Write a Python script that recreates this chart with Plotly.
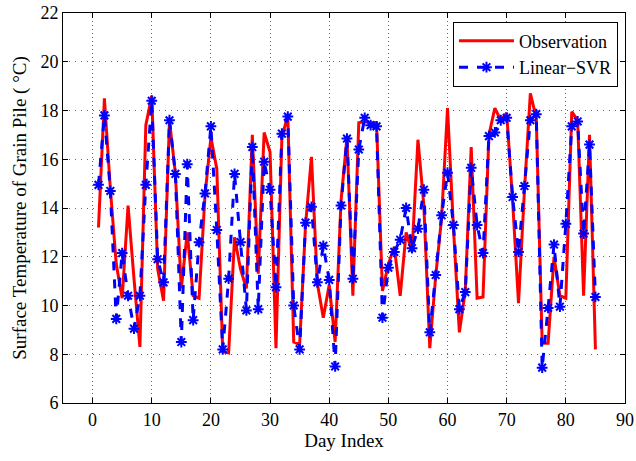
import plotly.graph_objects as go

days = list(range(1, 86))
observation = [
    13.2, 18.5, 14.8, 11.7, 10.3, 14.1, 11.1, 8.3, 17.4, 18.6,
    11.5, 10.2, 17.6, 15.4, 10.7, 13.0, 10.4, 10.3, 14.5, 16.9,
    15.6, 8.1, 8.05, 12.8, 11.5, 10.7, 17.0, 11.3, 17.1, 16.3,
    8.25, 16.9, 17.8, 8.5, 8.4, 13.3, 16.1, 10.9, 9.5, 10.85,
    8.5, 14.3, 16.9, 10.4, 17.5, 17.55, 17.5, 17.5, 10.6, 11.7,
    12.4, 10.4, 13.0, 12.2, 16.8, 14.1, 8.25, 11.2, 13.6, 18.1,
    13.2, 8.9, 10.6, 16.5, 10.3, 10.35, 17.0, 18.1, 17.6, 17.9,
    14.3, 10.1, 14.7, 18.7, 17.7, 8.45, 8.45, 12.0, 10.4, 10.3,
    17.95, 17.6, 10.4, 17.0, 8.2,
]
linear_svr = [
    14.95, 17.8, 14.7, 9.45, 12.15, 10.4, 9.05, 10.4, 14.95, 18.4,
    11.9, 10.95, 17.6, 15.4, 8.5, 15.8, 9.4, 12.6, 14.6, 17.35,
    13.1, 8.2, 11.1, 15.4, 12.6, 9.8, 16.5, 9.85, 15.9, 14.75,
    10.75, 17.05, 17.75, 10.0, 8.2, 13.4, 14.05, 10.95, 12.45, 11.05,
    7.5, 14.1, 16.85, 11.1, 16.4, 17.7, 17.4, 17.35, 9.5, 11.55,
    12.2, 12.7, 14.0, 12.35, 13.15, 14.75, 8.9, 11.25, 13.7, 15.45,
    13.3, 9.85, 10.55, 15.65, 13.3, 12.15, 16.95, 17.1, 17.6, 17.7,
    14.45, 12.2, 14.9, 17.6, 17.85, 7.45, 9.9, 12.5, 9.95, 13.35,
    17.35, 17.55, 12.95, 16.6, 10.35,
]
x_ticks = list(range(0, 91, 10))
y_ticks = list(range(6, 23, 2))

font_family = "Liberation Serif"

fig = go.Figure()
fig.add_trace(go.Scatter(
    x=days, y=observation, mode="lines", name="Observation",
    line=dict(color="#ff0000", width=3),
))
fig.add_trace(go.Scatter(
    x=days, y=linear_svr, mode="lines+markers", name="Linear\u2212SVR",
    line=dict(color="#0000ff", width=3, dash="dash"),
    marker=dict(symbol="asterisk", size=9, color="#0000ff",
                line=dict(color="#0000ff", width=2)),
))

axis_common = dict(
    automargin=False,
    showline=True, linecolor="black", linewidth=1, mirror="allticks",
    ticks="inside", ticklen=5, tickcolor="black",
    showgrid=True, gridcolor="rgba(0,0,0,0.6)", gridwidth=1,
    zeroline=False,
    tickfont=dict(family=font_family, size=18, color="black"),
)

fig.update_layout(
    width=636, height=461,
    margin=dict(l=63, r=11, t=13, b=58),
    paper_bgcolor="white", plot_bgcolor="white",
    font=dict(family=font_family, color="black"),
    showlegend=True,
    legend=dict(
        x=0.9875, y=0.978, xanchor="right", yanchor="top",
        bgcolor="white", bordercolor="black", borderwidth=1,
        font=dict(family=font_family, size=18, color="black"),
        tracegroupgap=0, itemwidth=55,
    ),
    xaxis=dict(
        range=[-5, 90], tickvals=x_ticks, griddash="1px,3px",
        title=dict(text="Day Index", font=dict(family=font_family, size=19), standoff=4),
        **axis_common,
    ),
    yaxis=dict(
        range=[6, 22], tickvals=y_ticks, griddash="1px,5px",
        title=dict(text="Surface Temperature of Grain Pile ( \u00b0C)",
                   font=dict(family=font_family, size=19), standoff=8),
        **axis_common,
    ),
)

fig.write_html(
    "out.html",
    config={"displayModeBar": False},
    post_script="document.body.style.margin='0';document.body.style.padding='0';",
)
